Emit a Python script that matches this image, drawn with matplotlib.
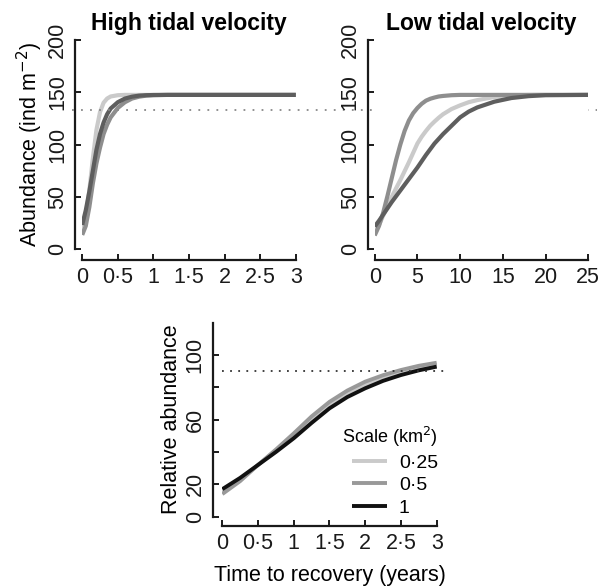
import matplotlib.pyplot as plt

plt.rcParams['font.family'] = ['Liberation Sans', 'DejaVu Sans']

scales = ['0·25', '0·5', '1']
top_colors = ['#cacaca', '#8e8e8e', '#5e5e5e']
bottom_colors = ['#cacaca', '#999999', '#111111']

# high tidal velocity (years)
high_x = [0, 0.05, 0.1, 0.15, 0.2, 0.25, 0.3, 0.35, 0.4, 0.5, 0.6, 0.7, 0.8, 0.9, 1.0, 1.2, 1.5, 2, 3]
high_025 = [15, 31, 56, 87, 114, 131, 140, 144, 146, 147.2, 147.5, 147.5, 147.5, 147.5, 147.5, 147.5, 147.5, 147.5, 147.5]
high_05 = [13.5, 22, 40, 63, 82, 97, 110, 119, 126, 135, 140.5, 144, 145.8, 146.8, 147.2, 147.5, 147.5, 147.5, 147.5]
high_1 = [23, 37, 55, 75, 95, 110, 121, 129, 134.5, 140.5, 144, 145.8, 146.8, 147.2, 147.4, 147.5, 147.5, 147.5, 147.5]

# low tidal velocity (years)
low_x = [0, 0.5, 1, 1.5, 2, 2.5, 3, 3.5, 4, 4.5, 5, 5.5, 6, 6.5, 7, 7.5, 8, 9, 10, 11, 12, 14, 16, 18, 20, 25]
low_025 = [15, 23, 32, 41, 50, 58, 66, 74.5, 83, 92, 101, 107.5, 113, 118, 122, 125.7, 129, 134, 137.5, 140.5,
           142.5, 145.5, 147, 147.4, 147.5, 147.5]
low_05 = [13, 22, 35, 51, 68, 85, 100, 113, 123, 130, 135, 139, 142, 143.8, 145, 146, 146.5, 147.2, 147.5, 147.5,
          147.5, 147.5, 147.5, 147.5, 147.5, 147.5]
low_1 = [21.5, 27, 33, 39, 45, 50.5, 56, 61.5, 67, 72.5, 78, 84, 90, 95.5, 101, 105.5, 110, 118, 126, 131.5,
         135.5, 141, 144.5, 146.3, 147.2, 147.5]

# relative abundance
rel_x = [0, 0.25, 0.5, 0.75, 1, 1.25, 1.5, 1.75, 2, 2.25, 2.5, 2.75, 3]
rel_025 = [15, 23, 32, 41, 50, 60, 69, 76, 81.5, 86, 89.3, 92, 94]
rel_05 = [14, 22, 32, 41.5, 51.5, 62, 71, 78, 83.5, 87.5, 90.7, 93.3, 95.2]
rel_1 = [17, 24, 32, 40, 48.5, 58, 67, 74, 79.4, 84, 87.6, 90.5, 92.8]

threshold_abund = 132.75
threshold_rel = 90

x_ticks_years = [0, 0.5, 1, 1.5, 2, 2.5, 3]
x_labels_years = ['0', '0·5', '1', '1·5', '2', '2·5', '3']
x_ticks_low = [0, 5, 10, 15, 20, 25]
y_ticks_abund = [0, 50, 100, 150, 200]
y_ticks_rel = [0, 20, 40, 60, 80, 100]
y_labels_rel = ['0', '20', '', '60', '', '100']

fig = plt.figure(figsize=(6, 5.88), dpi=100)
ax1 = fig.add_axes([0.137, 0.5765, 0.356, 0.3554])
ax2 = fig.add_axes([0.6245, 0.5765, 0.356, 0.3554])
ax3 = fig.add_axes([0.3705, 0.1213, 0.3573, 0.33])


def style(ax, left_off, bottom_off):
    for s in ['top', 'right']:
        ax.spines[s].set_visible(False)
    ax.spines['left'].set_position(('outward', left_off))
    ax.spines['bottom'].set_position(('outward', bottom_off))
    for s in ['left', 'bottom']:
        ax.spines[s].set_linewidth(1.6)
        ax.spines[s].set_color('#1a1a1a')
    ax.tick_params(direction='in', length=4, width=1.4, color='#1a1a1a',
                   labelsize=15.5, pad=5, labelcolor='#1a1a1a')
    for lab in ax.get_yticklabels():
        lab.set_rotation(90)
        lab.set_va('center')


for ax, x, ys in [(ax1, high_x, [high_025, high_05, high_1]),
                  (ax2, low_x, [low_025, low_05, low_1])]:
    for y, c in zip(ys, top_colors):
        ax.plot(x, y, color=c, lw=3, solid_capstyle='butt')
    ax.set_ylim(0, 200)
    ax.set_yticks(y_ticks_abund)

ax1.set_xlim(0, 3)
ax1.set_xticks(x_ticks_years)
ax1.set_xticklabels(x_labels_years)
ax2.set_xlim(0, 25)
ax2.set_xticks(x_ticks_low)

ax1.axhline(threshold_abund, xmin=-0.048, xmax=2.408, clip_on=False,
            color='#888888', lw=1.3, ls=(0, (1, 4)))

ax1.set_title('High tidal velocity', fontsize=16.5, fontweight='bold', pad=7)
ax2.set_title('Low tidal velocity', fontsize=16.5, fontweight='bold', pad=7)
ax1.set_ylabel('Abundance (ind m$^{-2}$)', fontsize=15.5, labelpad=2)

for y, c, lab in zip([rel_025, rel_05, rel_1], bottom_colors, scales):
    ax3.plot(rel_x, y, color=c, lw=2.8, label=lab, solid_capstyle='butt')
ax3.axhline(threshold_rel, xmin=0, xmax=1.048, clip_on=False,
            color='#333333', lw=1.3, ls=(0, (1, 3.5)))
ax3.set_xlim(0, 3)
ax3.set_ylim(0, 120)
ax3.set_xticks(x_ticks_years)
ax3.set_xticklabels(x_labels_years)
ax3.set_yticks(y_ticks_rel)
ax3.set_yticklabels(y_labels_rel)
ax3.set_ylabel('Relative abundance', fontsize=15.5, labelpad=2)
ax3.set_xlabel('Time to recovery (years)', fontsize=15.5, labelpad=8)

leg = ax3.legend(title='Scale (km$^2$)', loc='lower left', bbox_to_anchor=(0.56, 0.0),
                 frameon=False, fontsize=14, title_fontsize=13, handlelength=1.8,
                 handletextpad=0.6, labelspacing=0.25, borderpad=0, borderaxespad=0)
leg._legend_box.align = 'right'

for ax, lo, bo in [(ax1, 5, 8), (ax2, 5, 8), (ax3, 7, 7)]:
    style(ax, lo, bo)

fig.savefig('out.png', dpi=100)
